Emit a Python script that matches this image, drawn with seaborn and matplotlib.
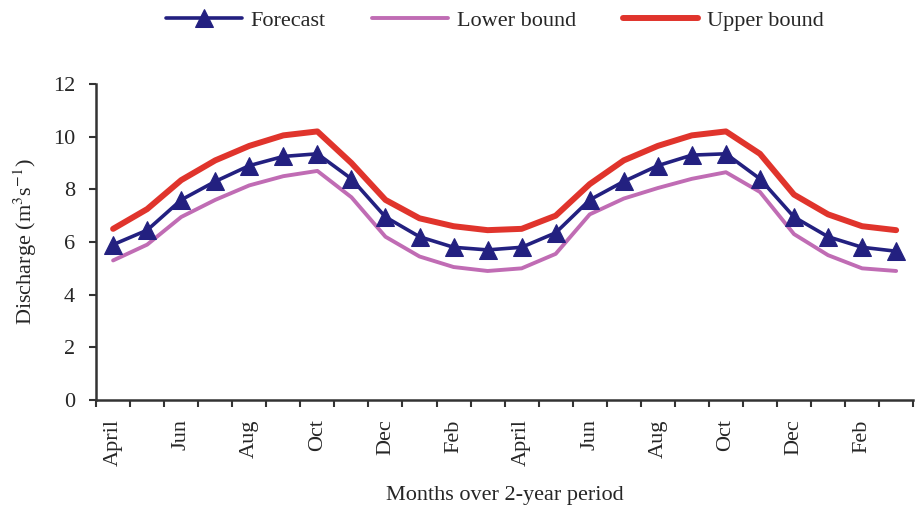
import pandas as pd
import matplotlib
matplotlib.use('Agg')
import matplotlib.pyplot as plt
import seaborn as sns
import numpy as np

# Monthly discharge over two years (April .. March, twice)
months = ['April', 'May', 'Jun', 'Jul', 'Aug', 'Sep', 'Oct', 'Nov', 'Dec', 'Jan', 'Feb', 'Mar'] * 2
forecast = [5.9, 6.45, 7.6, 8.3, 8.9, 9.25, 9.35, 8.4, 6.95, 6.2, 5.8, 5.7,
            5.8, 6.35, 7.6, 8.3, 8.9, 9.3, 9.35, 8.4, 6.95, 6.2, 5.8, 5.65]
lower = [5.3, 5.9, 6.95, 7.6, 8.15, 8.5, 8.7, 7.7, 6.2, 5.45, 5.05, 4.9,
         5.0, 5.55, 7.05, 7.65, 8.05, 8.4, 8.65, 7.9, 6.3, 5.5, 5.0, 4.9]
upper = [6.5, 7.25, 8.35, 9.1, 9.65, 10.05, 10.2, 9.0, 7.6, 6.9, 6.6, 6.45,
         6.5, 7.0, 8.2, 9.1, 9.65, 10.05, 10.2, 9.35, 7.8, 7.05, 6.6, 6.45]
tick_labels = months[::2]

df = pd.DataFrame({'idx': np.arange(len(months)), 'month': months,
                   'Forecast': forecast, 'Lower bound': lower, 'Upper bound': upper})

sns.set_style('white')
plt.rcParams['font.family'] = ['Liberation Serif', 'DejaVu Serif']
plt.rcParams['mathtext.fontset'] = 'stix'
fs = 16

fig = plt.figure(figsize=(9.15, 5.08), dpi=100)
ax = fig.add_axes([0.105, 0.2126, 0.893, 0.622])

navy = '#232080'
pink = '#C06CB4'
red = '#E0342C'

sns.lineplot(data=df, x='idx', y='Upper bound', color=red, lw=4.3, ax=ax, label='Upper bound')
sns.lineplot(data=df, x='idx', y='Lower bound', color=pink, lw=2.8, ax=ax, label='Lower bound')
sns.lineplot(data=df, x='idx', y='Forecast', color=navy, lw=2.6, marker='^', markersize=13,
             markeredgecolor=navy, ax=ax, label='Forecast')

# Legend order as in the reference
handles, labels = ax.get_legend_handles_labels()
order = [labels.index(n) for n in ['Forecast', 'Lower bound', 'Upper bound']]
fig.legend([handles[i] for i in order], [labels[i] for i in order],
           loc='center', bbox_to_anchor=(0.541, 0.96), ncol=3, frameon=False,
           fontsize=fs, handlelength=3.4, columnspacing=2.1, handletextpad=0.4)
ax.get_legend().remove()

ax.set_ylim(0, 12)
ax.set_yticks(range(0, 13, 2))
ax.set_xlim(-0.5, len(months) - 0.5)
ax.set_xticks(np.arange(-0.5, len(months), 1))
ax.set_xticklabels([])
ax.set_xticks(np.arange(0, len(months), 2), minor=True)
ax.set_xticklabels(tick_labels, minor=True, rotation=90)
ax.tick_params(axis='x', which='major', length=5, width=1.5, color='#333333', direction='out', bottom=True)
ax.tick_params(axis='x', which='minor', length=0, pad=14, labelsize=fs)
ax.tick_params(axis='y', length=5, width=1.5, color='#333333', direction='out', left=True, labelsize=fs, pad=10)

for s in ['top', 'right']:
    ax.spines[s].set_visible(False)
for s in ['left', 'bottom']:
    ax.spines[s].set_color('#333333')
    ax.spines[s].set_linewidth(1.8)

ax.set_xlabel('Months over 2-year period', fontsize=fs, labelpad=14)
ax.set_ylabel(r'Discharge (m$^{3}$s$^{-1}$)', fontsize=fs, labelpad=10)

fig.savefig('out.png', dpi=100)
